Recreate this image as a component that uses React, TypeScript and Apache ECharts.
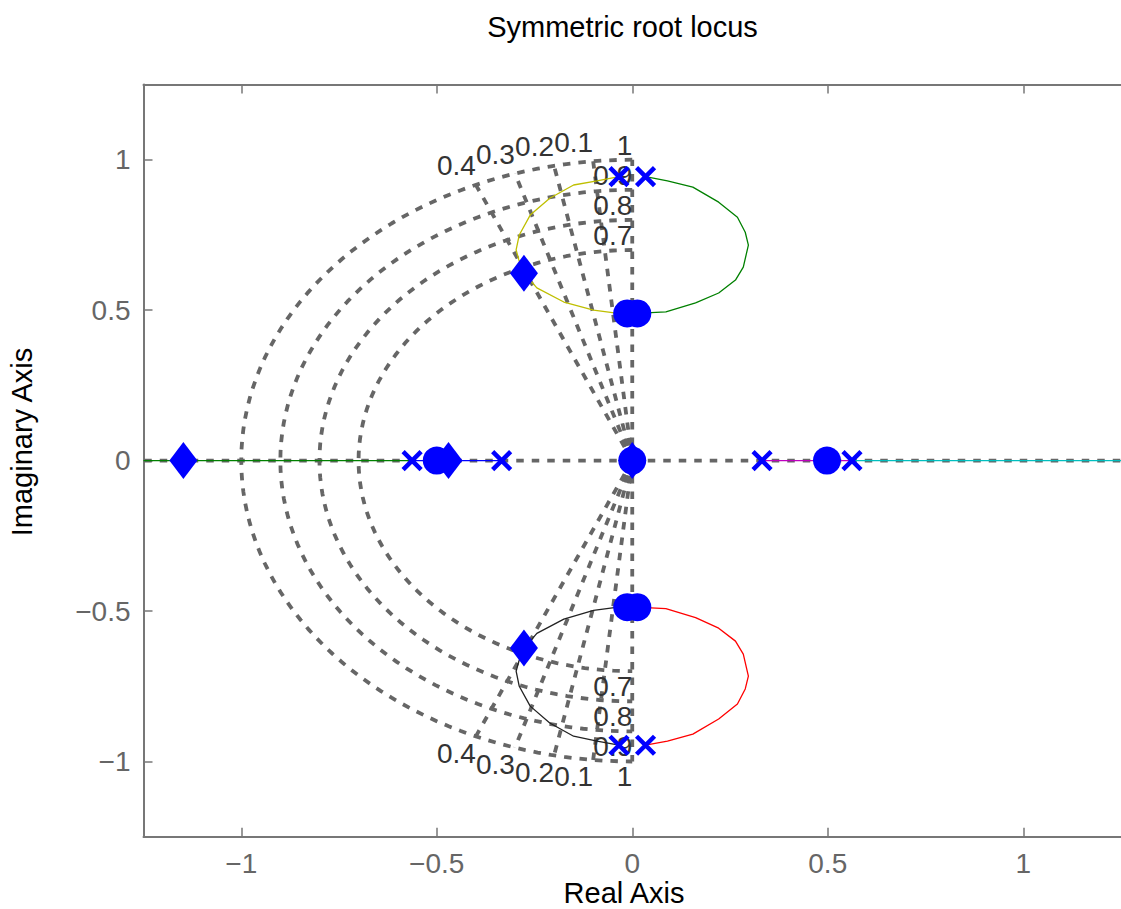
import React, { useEffect, useRef } from "react";
import * as echarts from "echarts";

// ---- data ----
const TICKS = [-1, -0.5, 0, 0.5, 1];
const X_RANGE = [-1.25, 1.25];
const Y_RANGE = [-1.25, 1.25];

// s-plane grid parameters (damping ratios and natural frequencies)
const ZETA = [0, 0.1, 0.2, 0.3, 0.4];
const WN = [0.7, 0.8, 0.9, 1];
const WN_MAX = 1;

// locus branches (complex pairs)
const branchYellow = [
  [-0.034, 0.944], [-0.09, 0.93], [-0.15, 0.916], [-0.211, 0.872], [-0.261, 0.816],
  [-0.289, 0.75], [-0.297, 0.7], [-0.29, 0.667], [-0.277, 0.624], [-0.244, 0.574],
  [-0.175, 0.527], [-0.099, 0.5], [-0.041, 0.49], [0, 0.489],
];
const branchGreen = [
  [0.034, 0.944], [0.09, 0.93], [0.155, 0.909], [0.221, 0.859], [0.269, 0.809],
  [0.289, 0.759], [0.297, 0.716], [0.284, 0.643], [0.264, 0.6], [0.221, 0.557],
  [0.162, 0.524], [0.086, 0.494], [0.01, 0.489],
];
const branchBlack = [
  [-0.034, -0.946], [-0.09, -0.932], [-0.15, -0.916], [-0.211, -0.872], [-0.261, -0.816],
  [-0.289, -0.75], [-0.297, -0.7], [-0.29, -0.667], [-0.277, -0.624], [-0.244, -0.574],
  [-0.175, -0.527], [-0.099, -0.498], [-0.041, -0.488], [0, -0.487],
];
const branchRed = [
  [0.034, -0.946], [0.09, -0.932], [0.155, -0.909], [0.221, -0.859], [0.269, -0.809],
  [0.289, -0.759], [0.297, -0.716], [0.284, -0.643], [0.264, -0.6], [0.221, -0.557],
  [0.162, -0.522], [0.086, -0.492], [0.01, -0.487],
];
// real-axis branches
const realGreen = [[-1.25, 0], [-0.563, 0]];
const realBlue = [[-0.563, 0], [-0.334, 0]];
const realMagenta = [[0.332, 0], [0.562, 0]];
const realCyan = [[0.562, 0], [1.25, 0]];

// markers
const poles = [
  [-0.563, 0], [-0.334, 0], [0.332, 0], [0.562, 0],
  [-0.034, 0.944], [0.034, 0.944], [-0.034, -0.946], [0.034, -0.946],
];
const circles = [
  [-0.5, 0], [0.498, 0], [0, 0],
  [-0.013, 0.489], [0.013, 0.489], [-0.013, -0.487], [0.013, -0.487],
];
const diamonds = [
  [-1.148, 0], [-0.47, 0], [0, 0], [-0.277, 0.623], [-0.277, -0.623],
];

const FONT = "'Liberation Sans', Arial, Helvetica, sans-serif";
const BLUE = "#0000ff";

function fmt(v: number) {
  return v < 0 ? "\u2212" + String(Math.abs(v)) : String(v);
}

export default function App() {
  const ref = useRef<HTMLDivElement>(null);

  useEffect(() => {
    if (!ref.current) return;
    const chart = echarts.init(ref.current, null, { renderer: "svg" });

    const gridLine = { color: "#666666", width: 3.8, type: [7.5, 8] as any, cap: "butt" as any };
    const gridSeries: any[] = [];
    const addGrid = (data: number[][]) =>
      gridSeries.push({
        type: "line", data, symbol: "none", silent: true, z: 1,
        lineStyle: gridLine, animation: false,
      });

    // damping rays from the origin
    ZETA.forEach((z) => {
      const s = Math.sqrt(1 - z * z);
      addGrid([[0, 0], [-z * WN_MAX, s * WN_MAX]]);
      addGrid([[0, 0], [-z * WN_MAX, -s * WN_MAX]]);
    });
    // zeta = 1 ray (real axis) across the plot
    addGrid([[0, 0], [X_RANGE[0], 0]]);
    addGrid([[0, 0], [X_RANGE[1], 0]]);
    // natural-frequency semicircles
    WN.forEach((w) => {
      const pts: number[][] = [];
      for (let a = 90; a <= 270; a += 2) {
        const r = (a * Math.PI) / 180;
        pts.push([w * Math.cos(r), w * Math.sin(r)]);
      }
      addGrid(pts);
    });

    // grid labels
    const labels: { x: number; y: number; t: string; up: boolean; off: number }[] = [];
    ZETA.filter((z) => z > 0).forEach((z) => {
      const s = Math.sqrt(1 - z * z);
      labels.push({ x: -z * WN_MAX, y: s * WN_MAX, t: String(z), up: true, off: 5 });
      labels.push({ x: -z * WN_MAX, y: -s * WN_MAX, t: String(z), up: false, off: 3 });
    });
    WN.forEach((w) => {
      labels.push({ x: 0, y: w, t: String(w), up: true, off: 0 });
      labels.push({ x: 0, y: -w, t: String(w), up: false, off: 1 });
    });

    const branch = (data: number[][], color: string) => ({
      type: "line", data, symbol: "none", silent: true, z: 4,
      lineStyle: { color, width: 1.3 },
    });

    const axisCommon = {
      type: "value",
      axisLine: { show: true, onZero: false, lineStyle: { color: "#777777", width: 2 } },
      axisTick: {
        show: true, inside: true, length: 9, customValues: TICKS,
        lineStyle: { color: "#777777", width: 1.5 },
      },
      splitLine: { show: false },
    };

    chart.setOption({
      animation: false,
      grid: { left: 143.5, top: 84.5, width: 985, height: 752.2 },
      xAxis: [
        {
          ...axisCommon,
          min: X_RANGE[0], max: X_RANGE[1], position: "bottom",
          axisLabel: {
            customValues: TICKS, formatter: fmt, fontSize: 28, color: "#666666",
            fontFamily: FONT, margin: 13,
          },
        },
        {
          ...axisCommon,
          min: X_RANGE[0], max: X_RANGE[1], position: "top",
          axisLabel: { show: false },
        },
      ],
      yAxis: [
        {
          ...axisCommon,
          min: Y_RANGE[0], max: Y_RANGE[1], position: "left",
          axisLabel: {
            customValues: TICKS, formatter: fmt, fontSize: 28, color: "#666666",
            fontFamily: FONT, margin: 13,
          },
        },
      ],
      graphic: [
        {
          type: "text", x: 622.5, y: 27,
          style: {
            text: "Symmetric root locus", fontSize: 29, fontFamily: FONT,
            fill: "#000", align: "center", verticalAlign: "middle",
          },
        },
        {
          type: "text", x: 624, y: 893,
          style: {
            text: "Real Axis", fontSize: 29, fontFamily: FONT,
            fill: "#000", align: "center", verticalAlign: "middle",
          },
        },
        {
          type: "text", x: 22, y: 442, rotation: Math.PI / 2,
          style: {
            text: "Imaginary Axis", fontSize: 29, fontFamily: FONT,
            fill: "#000", align: "center", verticalAlign: "middle",
          },
        },
      ],
      series: [
        ...gridSeries,
        {
          type: "custom", z: 3, silent: true,
          data: labels.map((l) => [l.x, l.y]),
          renderItem: (params: any, api: any) => {
            const l = labels[params.dataIndex];
            const p = api.coord([api.value(0), api.value(1)]);
            return {
              type: "text", x: p[0], y: p[1] + (l.up ? -l.off : l.off),
              style: {
                text: l.t, align: "right", verticalAlign: l.up ? "bottom" : "top",
                fontSize: 28, fontFamily: FONT, fill: "#333333",
              },
            };
          },
        },
        branch(branchYellow, "#bfbf00"),
        branch(branchGreen, "#008000"),
        branch(branchBlack, "#222222"),
        branch(branchRed, "#ff0000"),
        branch(realGreen, "#008000"),
        branch(realBlue, "#0000ff"),
        branch(realMagenta, "#bf00bf"),
        branch(realCyan, "#00bfbf"),
        {
          type: "scatter", data: circles, symbol: "circle", symbolSize: 28, z: 5, silent: true,
          itemStyle: { color: BLUE, opacity: 1 },
        },
        {
          type: "scatter", data: diamonds, symbol: "diamond", symbolSize: [28, 37], z: 5, silent: true,
          itemStyle: { color: BLUE, opacity: 1 },
        },
        {
          type: "scatter", data: poles, symbol: "path://M0,0L10,10M10,0L0,10", symbolSize: 18,
          z: 6, silent: true,
          itemStyle: { color: "none", borderColor: BLUE, borderWidth: 4.5, opacity: 1 },
        },
      ],
    });

    return () => chart.dispose();
  }, []);

  return (
    <div
      ref={ref}
      style={{ position: "absolute", left: 0, top: 0, width: 1121, height: 909 }}
    />
  );
}
